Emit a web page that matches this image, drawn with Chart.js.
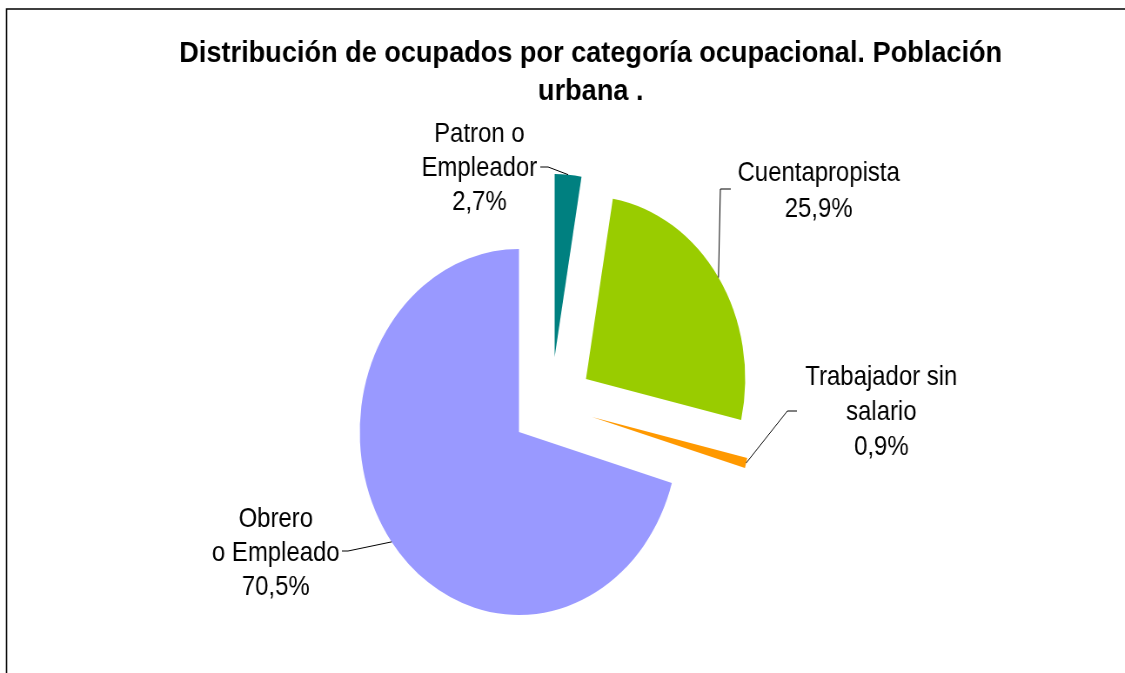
<!DOCTYPE html>
<html>
<head>
<meta charset="utf-8">
<script src="https://cdn.jsdelivr.net/npm/chart.js@4.4.1/dist/chart.umd.min.js"></script>
<style>
  html, body { margin:0; padding:0; background:#fff; overflow:hidden; }
  /* the original picture is squeezed horizontally, so draw wide and squeeze */
  #wrap { width:1293px; height:673px; transform:scaleX(0.87); transform-origin:0 0; }
</style>
</head>
<body>
<div id="wrap"><canvas id="pieChart"></canvas></div>
<script>
const categorias = [['Patron o','Empleador'], ['Cuentapropista'], ['Trabajador sin','salario'], ['Obrero','o Empleado']];
const porcentajes = [2.7, 25.9, 0.9, 70.5];
const colores = ['#008080', '#99CC00', '#FF9900', '#9999FF'];
const titulo = ['Distribución de ocupados por categoría ocupacional. Población', 'urbana .'];

// how far each slice is pulled out of the pie (px, before the squeeze)
const desplazamiento = [[41, -75], [77, -53], [84, -15], [0, 0]];
// where each label sits: text centre x, first baseline y, line gap, leader start x, elbow x, elbow y
const etiquetas = [
  {x:551, y:142, gap:34.2, lx:621, ex:630, ey:167},
  {x:941, y:181, gap:35.5, lx:840, ex:828, ey:189},
  {x:1013, y:385, gap:35.2, lx:916, ex:905, ey:411},
  {x:317, y:527, gap:34.2, lx:393, ex:400, ey:551}
];

const explode = {
  id:'explode',
  afterDatasetsUpdate(chart){
    chart.getDatasetMeta(0).data.forEach((arc,i)=>{
      arc.x += desplazamiento[i][0];
      arc.y += desplazamiento[i][1];
    });
  }
};

const textos = {
  id:'textos',
  afterDraw(chart){
    const c = chart.ctx;
    c.save();
    // frame
    c.strokeStyle = '#000';
    c.lineWidth = 1.6;
    c.beginPath();
    c.moveTo(7.5, chart.height);
    c.lineTo(7.5, 9);
    c.lineTo(chart.width, 9);
    c.stroke();

    c.fillStyle = '#000';
    c.textAlign = 'center';
    c.textBaseline = 'alphabetic';
    // title a bit wider than the body text
    c.save();
    c.translate(679, 0);
    c.scale(1.075, 1);
    c.font = 'bold 29px "Liberation Sans", Arial, sans-serif';
    c.fillText(titulo[0], 0, 62);
    c.fillText(titulo[1], 0, 100);
    c.restore();

    const total = porcentajes.reduce((a,b)=>a+b,0);
    c.font = '27.5px "Liberation Sans", Arial, sans-serif';
    chart.getDatasetMeta(0).data.forEach((arc,i)=>{
      const e = etiquetas[i];
      const lines = categorias[i].concat([(porcentajes[i]/total*100).toFixed(1).replace('.',',') + '%']);
      lines.forEach((t,k)=>c.fillText(t, e.x, e.y + k*e.gap));
      const mid = (arc.startAngle + arc.endAngle)/2;
      const px = arc.x + Math.cos(mid)*arc.outerRadius;
      const py = arc.y + Math.sin(mid)*arc.outerRadius;
      c.lineWidth = 1;
      c.strokeStyle = '#000';
      c.beginPath();
      c.moveTo(e.lx, e.ey);
      c.lineTo(e.ex, e.ey);
      c.lineTo(px, py);
      c.stroke();
    });
    c.restore();
  }
};

new Chart(document.getElementById('pieChart'), {
  type:'pie',
  data:{
    labels:categorias,
    datasets:[{
      data:porcentajes,
      backgroundColor:colores,
      borderWidth:0,
      clip:false
    }]
  },
  options:{
    responsive:true,
    maintainAspectRatio:false,
    animation:false,
    radius:183,
    layout:{ padding:{left:100, right:200, top:221, bottom:30} },
    plugins:{
      legend:{display:false},
      title:{display:false},
      tooltip:{enabled:false}
    }
  },
  plugins:[explode, textos]
});
</script>
</body>
</html>
